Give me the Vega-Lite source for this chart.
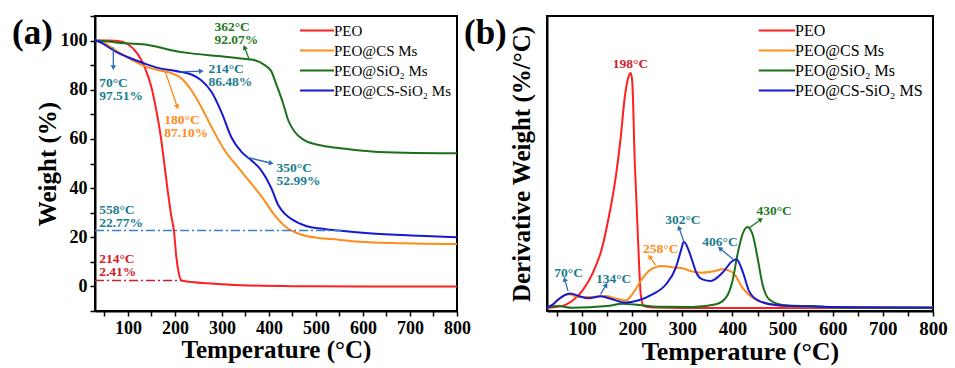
{
  "$schema": "https://vega.github.io/schema/vega-lite/v6.json",
  "background": "white",
  "padding": {"left": 10, "top": 14, "right": 5, "bottom": 2},
  "bounds": "flush",
  "spacing": 90,
  "config": {
    "view": {"stroke": "#000", "strokeWidth": 2},
    "font": "Liberation Serif",
    "axis": {"domainColor": "#000", "domainWidth": 2, "tickColor": "#000", "tickWidth": 1.5, "tickSize": 5, "labelFont": "Liberation Serif", "labelFontWeight": "bold", "labelColor": "#000", "titleFont": "Liberation Serif", "titleFontWeight": "bold", "titleColor": "#000", "grid": false, "labelPadding": 3, "labelOverlap": false, "labelFlush": false},
    "legend": {"orient": "none", "title": null, "symbolStrokeWidth": 2.2, "labelFont": "Liberation Serif", "labelColor": "#000", "padding": 0, "labelLimit": 400, "rowPadding": 2}
  },
  "datasets": {
    "tga": [
      {"s": "PEO", "T": 30, "W": 100}, {"s": "PEO", "T": 60, "W": 100}, {"s": "PEO", "T": 80, "W": 99.8}, {"s": "PEO", "T": 100, "W": 98.5}, {"s": "PEO", "T": 121, "W": 94.5}, {"s": "PEO", "T": 135, "W": 89.5}, {"s": "PEO", "T": 150, "W": 81}, {"s": "PEO", "T": 160, "W": 72}, {"s": "PEO", "T": 171, "W": 59.5}, {"s": "PEO", "T": 178, "W": 49}, {"s": "PEO", "T": 185, "W": 38.5}, {"s": "PEO", "T": 192, "W": 29}, {"s": "PEO", "T": 198, "W": 22.5}, {"s": "PEO", "T": 203, "W": 12}, {"s": "PEO", "T": 208, "W": 5.6}, {"s": "PEO", "T": 214, "W": 2.4}, {"s": "PEO", "T": 230, "W": 1.9}, {"s": "PEO", "T": 270, "W": 1.3}, {"s": "PEO", "T": 340, "W": 0.5}, {"s": "PEO", "T": 450, "W": 0.1}, {"s": "PEO", "T": 600, "W": 0}, {"s": "PEO", "T": 800, "W": 0},
      {"s": "PEO@CS Ms", "T": 30, "W": 100}, {"s": "PEO@CS Ms", "T": 45, "W": 99.5}, {"s": "PEO@CS Ms", "T": 57, "W": 98.2}, {"s": "PEO@CS Ms", "T": 79, "W": 95.4}, {"s": "PEO@CS Ms", "T": 107, "W": 92.3}, {"s": "PEO@CS Ms", "T": 135, "W": 89.6}, {"s": "PEO@CS Ms", "T": 171, "W": 87.7}, {"s": "PEO@CS Ms", "T": 192, "W": 86.8}, {"s": "PEO@CS Ms", "T": 214, "W": 84.6}, {"s": "PEO@CS Ms", "T": 235, "W": 79.8}, {"s": "PEO@CS Ms", "T": 256, "W": 73}, {"s": "PEO@CS Ms", "T": 278, "W": 64.8}, {"s": "PEO@CS Ms", "T": 306, "W": 55.3}, {"s": "PEO@CS Ms", "T": 334, "W": 48.5}, {"s": "PEO@CS Ms", "T": 363, "W": 41.7}, {"s": "PEO@CS Ms", "T": 388, "W": 35.6}, {"s": "PEO@CS Ms", "T": 410, "W": 29.5}, {"s": "PEO@CS Ms", "T": 434, "W": 24.5}, {"s": "PEO@CS Ms", "T": 470, "W": 21}, {"s": "PEO@CS Ms", "T": 505, "W": 19.7}, {"s": "PEO@CS Ms", "T": 548, "W": 19}, {"s": "PEO@CS Ms", "T": 576, "W": 18.4}, {"s": "PEO@CS Ms", "T": 683, "W": 17.6}, {"s": "PEO@CS Ms", "T": 800, "W": 17.3},
      {"s": "PEO@SiO₂ Ms", "T": 30, "W": 100}, {"s": "PEO@SiO₂ Ms", "T": 57, "W": 99.6}, {"s": "PEO@SiO₂ Ms", "T": 93, "W": 98.9}, {"s": "PEO@SiO₂ Ms", "T": 143, "W": 98.2}, {"s": "PEO@SiO₂ Ms", "T": 192, "W": 96.1}, {"s": "PEO@SiO₂ Ms", "T": 235, "W": 94.8}, {"s": "PEO@SiO₂ Ms", "T": 292, "W": 93.7}, {"s": "PEO@SiO₂ Ms", "T": 342, "W": 92.7}, {"s": "PEO@SiO₂ Ms", "T": 370, "W": 92}, {"s": "PEO@SiO₂ Ms", "T": 391, "W": 90}, {"s": "PEO@SiO₂ Ms", "T": 405, "W": 87.5}, {"s": "PEO@SiO₂ Ms", "T": 416, "W": 82}, {"s": "PEO@SiO₂ Ms", "T": 430, "W": 74.5}, {"s": "PEO@SiO₂ Ms", "T": 441, "W": 67.6}, {"s": "PEO@SiO₂ Ms", "T": 455, "W": 62.8}, {"s": "PEO@SiO₂ Ms", "T": 476, "W": 59.4}, {"s": "PEO@SiO₂ Ms", "T": 512, "W": 57.3}, {"s": "PEO@SiO₂ Ms", "T": 562, "W": 56}, {"s": "PEO@SiO₂ Ms", "T": 619, "W": 54.9}, {"s": "PEO@SiO₂ Ms", "T": 690, "W": 54.4}, {"s": "PEO@SiO₂ Ms", "T": 800, "W": 54.2},
      {"s": "PEO@CS-SiO₂ Ms", "T": 30, "W": 100}, {"s": "PEO@CS-SiO₂ Ms", "T": 45, "W": 99}, {"s": "PEO@CS-SiO₂ Ms", "T": 57, "W": 97.5}, {"s": "PEO@CS-SiO₂ Ms", "T": 79, "W": 95}, {"s": "PEO@CS-SiO₂ Ms", "T": 107, "W": 92.7}, {"s": "PEO@CS-SiO₂ Ms", "T": 135, "W": 90.7}, {"s": "PEO@CS-SiO₂ Ms", "T": 164, "W": 88.9}, {"s": "PEO@CS-SiO₂ Ms", "T": 199, "W": 87.7}, {"s": "PEO@CS-SiO₂ Ms", "T": 235, "W": 86.2}, {"s": "PEO@CS-SiO₂ Ms", "T": 256, "W": 83.9}, {"s": "PEO@CS-SiO₂ Ms", "T": 278, "W": 79.1}, {"s": "PEO@CS-SiO₂ Ms", "T": 299, "W": 70.9}, {"s": "PEO@CS-SiO₂ Ms", "T": 320, "W": 60.7}, {"s": "PEO@CS-SiO₂ Ms", "T": 342, "W": 54.6}, {"s": "PEO@CS-SiO₂ Ms", "T": 363, "W": 51.2}, {"s": "PEO@CS-SiO₂ Ms", "T": 384, "W": 47.1}, {"s": "PEO@CS-SiO₂ Ms", "T": 405, "W": 40}, {"s": "PEO@CS-SiO₂ Ms", "T": 420, "W": 33}, {"s": "PEO@CS-SiO₂ Ms", "T": 434, "W": 29.5}, {"s": "PEO@CS-SiO₂ Ms", "T": 448, "W": 27.4}, {"s": "PEO@CS-SiO₂ Ms", "T": 476, "W": 24.8}, {"s": "PEO@CS-SiO₂ Ms", "T": 520, "W": 23.3}, {"s": "PEO@CS-SiO₂ Ms", "T": 548, "W": 22.7}, {"s": "PEO@CS-SiO₂ Ms", "T": 612, "W": 21.6}, {"s": "PEO@CS-SiO₂ Ms", "T": 718, "W": 20.6}, {"s": "PEO@CS-SiO₂ Ms", "T": 800, "W": 20}
    ],
    "dtg": [
      {"s": "PEO", "T": 30, "v": 0}, {"s": "PEO", "T": 60, "v": 0.008}, {"s": "PEO", "T": 80, "v": 0.03}, {"s": "PEO", "T": 100, "v": 0.072}, {"s": "PEO", "T": 120, "v": 0.143}, {"s": "PEO", "T": 140, "v": 0.257}, {"s": "PEO", "T": 153, "v": 0.384}, {"s": "PEO", "T": 167, "v": 0.555}, {"s": "PEO", "T": 177, "v": 0.725}, {"s": "PEO", "T": 185, "v": 0.895}, {"s": "PEO", "T": 192, "v": 0.98}, {"s": "PEO", "T": 197, "v": 1.0}, {"s": "PEO", "T": 200, "v": 0.966}, {"s": "PEO", "T": 205, "v": 0.626}, {"s": "PEO", "T": 212, "v": 0.271}, {"s": "PEO", "T": 217, "v": 0.058}, {"s": "PEO", "T": 223, "v": 0.008}, {"s": "PEO", "T": 240, "v": 0.002}, {"s": "PEO", "T": 300, "v": 0}, {"s": "PEO", "T": 800, "v": 0},
      {"s": "PEO@CS Ms", "T": 30, "v": 0.003}, {"s": "PEO@CS Ms", "T": 40, "v": 0.012}, {"s": "PEO@CS Ms", "T": 53, "v": 0.037}, {"s": "PEO@CS Ms", "T": 73, "v": 0.058}, {"s": "PEO@CS Ms", "T": 93, "v": 0.047}, {"s": "PEO@CS Ms", "T": 120, "v": 0.047}, {"s": "PEO@CS Ms", "T": 147, "v": 0.051}, {"s": "PEO@CS Ms", "T": 167, "v": 0.041}, {"s": "PEO@CS Ms", "T": 187, "v": 0.033}, {"s": "PEO@CS Ms", "T": 200, "v": 0.058}, {"s": "PEO@CS Ms", "T": 217, "v": 0.115}, {"s": "PEO@CS Ms", "T": 233, "v": 0.157}, {"s": "PEO@CS Ms", "T": 247, "v": 0.174}, {"s": "PEO@CS Ms", "T": 258, "v": 0.179}, {"s": "PEO@CS Ms", "T": 287, "v": 0.172}, {"s": "PEO@CS Ms", "T": 300, "v": 0.169}, {"s": "PEO@CS Ms", "T": 320, "v": 0.155}, {"s": "PEO@CS Ms", "T": 337, "v": 0.15}, {"s": "PEO@CS Ms", "T": 360, "v": 0.155}, {"s": "PEO@CS Ms", "T": 380, "v": 0.165}, {"s": "PEO@CS Ms", "T": 395, "v": 0.158}, {"s": "PEO@CS Ms", "T": 405, "v": 0.14}, {"s": "PEO@CS Ms", "T": 420, "v": 0.086}, {"s": "PEO@CS Ms", "T": 440, "v": 0.044}, {"s": "PEO@CS Ms", "T": 473, "v": 0.016}, {"s": "PEO@CS Ms", "T": 520, "v": 0.006}, {"s": "PEO@CS Ms", "T": 600, "v": 0.003}, {"s": "PEO@CS Ms", "T": 800, "v": 0.002},
      {"s": "PEO@SiO₂ Ms", "T": 30, "v": 0.003}, {"s": "PEO@SiO₂ Ms", "T": 53, "v": 0.008}, {"s": "PEO@SiO₂ Ms", "T": 80, "v": 0.001}, {"s": "PEO@SiO₂ Ms", "T": 150, "v": 0.008}, {"s": "PEO@SiO₂ Ms", "T": 180, "v": 0.018}, {"s": "PEO@SiO₂ Ms", "T": 213, "v": 0.013}, {"s": "PEO@SiO₂ Ms", "T": 253, "v": 0.005}, {"s": "PEO@SiO₂ Ms", "T": 320, "v": 0.004}, {"s": "PEO@SiO₂ Ms", "T": 367, "v": 0.016}, {"s": "PEO@SiO₂ Ms", "T": 387, "v": 0.044}, {"s": "PEO@SiO₂ Ms", "T": 400, "v": 0.115}, {"s": "PEO@SiO₂ Ms", "T": 410, "v": 0.228}, {"s": "PEO@SiO₂ Ms", "T": 420, "v": 0.314}, {"s": "PEO@SiO₂ Ms", "T": 430, "v": 0.345}, {"s": "PEO@SiO₂ Ms", "T": 440, "v": 0.314}, {"s": "PEO@SiO₂ Ms", "T": 450, "v": 0.214}, {"s": "PEO@SiO₂ Ms", "T": 460, "v": 0.1}, {"s": "PEO@SiO₂ Ms", "T": 473, "v": 0.037}, {"s": "PEO@SiO₂ Ms", "T": 500, "v": 0.013}, {"s": "PEO@SiO₂ Ms", "T": 540, "v": 0.009}, {"s": "PEO@SiO₂ Ms", "T": 560, "v": 0.009}, {"s": "PEO@SiO₂ Ms", "T": 593, "v": 0.003}, {"s": "PEO@SiO₂ Ms", "T": 650, "v": 0.001}, {"s": "PEO@SiO₂ Ms", "T": 800, "v": 0},
      {"s": "PEO@CS-SiO₂ MS", "T": 30, "v": 0.003}, {"s": "PEO@CS-SiO₂ MS", "T": 40, "v": 0.012}, {"s": "PEO@CS-SiO₂ MS", "T": 53, "v": 0.037}, {"s": "PEO@CS-SiO₂ MS", "T": 65, "v": 0.055}, {"s": "PEO@CS-SiO₂ MS", "T": 77, "v": 0.062}, {"s": "PEO@CS-SiO₂ MS", "T": 93, "v": 0.051}, {"s": "PEO@CS-SiO₂ MS", "T": 113, "v": 0.041}, {"s": "PEO@CS-SiO₂ MS", "T": 137, "v": 0.05}, {"s": "PEO@CS-SiO₂ MS", "T": 160, "v": 0.037}, {"s": "PEO@CS-SiO₂ MS", "T": 187, "v": 0.023}, {"s": "PEO@CS-SiO₂ MS", "T": 213, "v": 0.033}, {"s": "PEO@CS-SiO₂ MS", "T": 240, "v": 0.058}, {"s": "PEO@CS-SiO₂ MS", "T": 267, "v": 0.1}, {"s": "PEO@CS-SiO₂ MS", "T": 287, "v": 0.172}, {"s": "PEO@CS-SiO₂ MS", "T": 297, "v": 0.243}, {"s": "PEO@CS-SiO₂ MS", "T": 303, "v": 0.282}, {"s": "PEO@CS-SiO₂ MS", "T": 313, "v": 0.243}, {"s": "PEO@CS-SiO₂ MS", "T": 320, "v": 0.2}, {"s": "PEO@CS-SiO₂ MS", "T": 328, "v": 0.15}, {"s": "PEO@CS-SiO₂ MS", "T": 340, "v": 0.122}, {"s": "PEO@CS-SiO₂ MS", "T": 357, "v": 0.115}, {"s": "PEO@CS-SiO₂ MS", "T": 380, "v": 0.15}, {"s": "PEO@CS-SiO₂ MS", "T": 400, "v": 0.2}, {"s": "PEO@CS-SiO₂ MS", "T": 408, "v": 0.207}, {"s": "PEO@CS-SiO₂ MS", "T": 420, "v": 0.157}, {"s": "PEO@CS-SiO₂ MS", "T": 433, "v": 0.072}, {"s": "PEO@CS-SiO₂ MS", "T": 453, "v": 0.03}, {"s": "PEO@CS-SiO₂ MS", "T": 487, "v": 0.013}, {"s": "PEO@CS-SiO₂ MS", "T": 553, "v": 0.006}, {"s": "PEO@CS-SiO₂ MS", "T": 650, "v": 0.003}, {"s": "PEO@CS-SiO₂ MS", "T": 800, "v": 0.002}
    ],
    "annA": [
      {"T": 284, "W": 104.1, "t": "362°C\n92.07%", "g": "PEO@SiO₂ Ms"},
      {"T": 38.8, "W": 81.2, "t": "70°C\n97.51%", "g": "PEO@CS-SiO₂ Ms"},
      {"T": 271.2, "W": 86.9, "t": "214°C\n86.48%", "g": "PEO@CS-SiO₂ Ms"},
      {"T": 177.4, "W": 66.1, "t": "180°C\n87.10%", "g": "PEO@CS Ms"},
      {"T": 416.2, "W": 46.5, "t": "350°C\n52.99%", "g": "PEO@CS-SiO₂ Ms"},
      {"T": 38.8, "W": 29.4, "t": "558°C\n22.77%", "g": "PEO@CS-SiO₂ Ms"},
      {"T": 38.8, "W": 9.4, "t": "214°C\n2.41%", "g": "PEO"}
    ],
    "arrA": [
      {"T": 358.7, "W": 92.0, "T2": 348, "W2": 97.3, "a": -21, "g": "PEO@SiO₂ Ms"},
      {"T": 69, "W": 97.3, "T2": 69, "W2": 89, "a": 180, "g": "PEO@CS-SiO₂ Ms"},
      {"T": 213.6, "W": 87.3, "T2": 256, "W2": 87.6, "a": 87, "g": "PEO@CS-SiO₂ Ms"},
      {"T": 179.5, "W": 87.3, "T2": 205, "W2": 73, "a": 161, "g": "PEO@CS Ms"},
      {"T": 352, "W": 52.6, "T2": 405, "W2": 50.1, "a": 104, "g": "PEO@CS-SiO₂ Ms"}
    ],
    "refA": [
      {"T": 30, "T2": 558, "W": 22.77, "g": "PEO@CS-SiO₂ Ms"},
      {"T": 30, "T2": 214, "W": 2.41, "g": "PEO"}
    ],
    "annB": [
      {"T": 196.7, "v": 1.02, "t": "198°C", "g": "PEO"},
      {"T": 483, "v": 0.397, "t": "430°C", "g": "PEO@SiO₂ Ms"},
      {"T": 301, "v": 0.358, "t": "302°C", "g": "PEO@CS-SiO₂ MS"},
      {"T": 375, "v": 0.266, "t": "406°C", "g": "PEO@CS-SiO₂ MS"},
      {"T": 257, "v": 0.233, "t": "258°C", "g": "PEO@CS Ms"},
      {"T": 73, "v": 0.131, "t": "70°C", "g": "PEO@CS-SiO₂ MS"},
      {"T": 163, "v": 0.107, "t": "134°C", "g": "PEO@CS-SiO₂ MS"}
    ],
    "arrB": [
      {"T": 432, "v": 0.339, "T2": 456.7, "v2": 0.377, "a": 54, "g": "PEO@SiO₂ Ms"},
      {"T": 303, "v": 0.282, "T2": 293.3, "v2": 0.342, "a": -20, "g": "PEO@CS-SiO₂ MS"},
      {"T": 401.3, "v": 0.207, "T2": 374.7, "v2": 0.254, "a": -51, "g": "PEO@CS-SiO₂ MS"},
      {"T": 246.7, "v": 0.183, "T2": 234.7, "v2": 0.218, "a": -36, "g": "PEO@CS Ms"},
      {"T": 72, "v": 0.072, "T2": 65.3, "v2": 0.122, "a": -16, "g": "PEO@CS-SiO₂ MS"},
      {"T": 136.7, "v": 0.058, "T2": 148, "v2": 0.098, "a": 31, "g": "PEO@CS-SiO₂ MS"}
    ]
  },
  "hconcat": [
    {
      "width": 362,
      "height": 295,
      "resolve": {"scale": {"color": "independent"}, "axis": {"x": "independent", "y": "independent"}},
      "layer": [
        {
          "data": {"name": "tga"},
          "mark": {"type": "line", "interpolate": "monotone", "strokeWidth": 2},
          "encoding": {
            "x": {"field": "T", "type": "quantitative", "scale": {"domain": [30, 800], "nice": false, "zero": false}, "axis": {"orient": "bottom", "title": "Temperature (°C)", "values": [100, 200, 300, 400, 500, 600, 700, 800], "format": "d", "labelFontSize": 18, "titleFontSize": 25, "titlePadding": 0}},
            "y": {"field": "W", "type": "quantitative", "scale": {"domain": [-10, 110], "nice": false, "zero": false}, "axis": {"orient": "left", "title": "Weight (%)", "values": [0, 20, 40, 60, 80, 100], "format": "d", "labelFontSize": 18, "titleFontSize": 25, "titlePadding": 0}},
            "color": {"field": "s", "type": "nominal", "scale": {"domain": ["PEO", "PEO@CS Ms", "PEO@SiO₂ Ms", "PEO@CS-SiO₂ Ms"], "range": ["#ff1f1f", "#ff8c1a", "#1a701a", "#1818d0"]}, "legend": {"legendX": 212.5, "legendY": 5, "symbolType": "M-2.06,0H2.06", "symbolSize": 272, "labelOffset": 7.5, "labelFontSize": 15}}
          }
        },
        {
          "data": {"name": "refA"},
          "mark": {"type": "rule", "strokeWidth": 1.6, "strokeDash": [9, 3, 2, 3]},
          "encoding": {
            "x": {"field": "T", "type": "quantitative", "axis": {"orient": "bottom", "values": [50, 150, 250, 350, 450, 550, 650, 750], "labels": false, "domain": false, "title": null}},
            "x2": {"field": "T2"},
            "y": {"field": "W", "type": "quantitative", "axis": {"orient": "left", "values": [-10, 10, 30, 50, 70, 90, 110], "labels": false, "domain": false, "title": null}},
            "color": {"field": "g", "type": "nominal", "scale": {"domain": ["PEO", "PEO@CS-SiO₂ Ms"], "range": ["#c8242c", "#3a80c8"]}, "legend": null}
          }
        },
        {
          "data": {"name": "arrA"},
          "mark": {"type": "rule", "strokeWidth": 1.3},
          "encoding": {
            "x": {"field": "T", "type": "quantitative", "axis": null},
            "x2": {"field": "T2"},
            "y": {"field": "W", "type": "quantitative", "axis": null},
            "y2": {"field": "W2"},
            "color": {"field": "g", "type": "nominal", "scale": {"domain": ["PEO", "PEO@CS Ms", "PEO@SiO₂ Ms", "PEO@CS-SiO₂ Ms"], "range": ["#c8242c", "#ff8c1a", "#237a23", "#2c6db5"]}, "legend": null}
          }
        },
        {
          "data": {"name": "arrA"},
          "mark": {"type": "point", "shape": "triangle-up", "filled": true, "size": 30, "opacity": 1},
          "encoding": {
            "x": {"field": "T2", "type": "quantitative", "axis": null},
            "y": {"field": "W2", "type": "quantitative", "axis": null},
            "angle": {"field": "a", "type": "quantitative", "scale": null},
            "color": {"field": "g", "type": "nominal", "scale": {"domain": ["PEO", "PEO@CS Ms", "PEO@SiO₂ Ms", "PEO@CS-SiO₂ Ms"], "range": ["#c8242c", "#ff8c1a", "#237a23", "#2c6db5"]}, "legend": null}
          }
        },
        {
          "data": {"name": "annA"},
          "mark": {"type": "text", "align": "left", "baseline": "alphabetic", "lineBreak": "\n", "lineHeight": 13, "font": "Liberation Serif", "fontSize": 13.5, "fontWeight": "bold"},
          "encoding": {
            "x": {"field": "T", "type": "quantitative", "axis": null},
            "y": {"field": "W", "type": "quantitative", "axis": null},
            "text": {"field": "t", "type": "nominal"},
            "color": {"field": "g", "type": "nominal", "scale": {"domain": ["PEO", "PEO@CS Ms", "PEO@SiO₂ Ms", "PEO@CS-SiO₂ Ms"], "range": ["#d0202c", "#ff8c1a", "#237a23", "#1a7d8f"]}, "legend": null}
          }
        },
        {
          "data": {"values": [{"p": "(a)"}]},
          "mark": {"type": "text", "align": "left", "baseline": "alphabetic", "font": "Liberation Serif", "fontSize": 35, "fontWeight": "bold", "color": "#000"},
          "encoding": {
            "x": {"datum": -146.6, "type": "quantitative", "axis": null},
            "y": {"datum": 98.6, "type": "quantitative", "axis": null},
            "text": {"field": "p", "type": "nominal"}
          }
        }
      ]
    },
    {
      "width": 386,
      "height": 295,
      "resolve": {"scale": {"color": "independent"}, "axis": {"x": "independent", "y": "independent"}},
      "layer": [
        {
          "data": {"name": "dtg"},
          "mark": {"type": "line", "interpolate": "monotone", "strokeWidth": 2},
          "encoding": {
            "x": {"field": "T", "type": "quantitative", "scale": {"domain": [30, 800], "nice": false, "zero": false}, "axis": {"orient": "bottom", "title": "Temperature (°C)", "values": [100, 200, 300, 400, 500, 600, 700, 800], "format": "d", "labelFontSize": 19, "titleFontSize": 26, "titlePadding": 0}},
            "y": {"field": "v", "type": "quantitative", "scale": {"domain": [-0.0128, 1.243], "nice": false, "zero": false}, "axis": {"orient": "left", "title": "Derivative Weight (%/°C)", "labels": false, "ticks": false, "titleFontSize": 25, "titlePadding": 13}},
            "color": {"field": "s", "type": "nominal", "scale": {"domain": ["PEO", "PEO@CS Ms", "PEO@SiO₂ Ms", "PEO@CS-SiO₂ MS"], "range": ["#ff1f1f", "#ff8c1a", "#1a701a", "#1818d0"]}, "legend": {"legendX": 220.4, "legendY": 5, "symbolType": "M-2.2,0H2.2", "symbolSize": 272, "labelOffset": 8.7, "labelFontSize": 16}}
          }
        },
        {
          "data": {"name": "arrB"},
          "mark": {"type": "rule", "strokeWidth": 1.3},
          "encoding": {
            "x": {"field": "T", "type": "quantitative", "axis": {"orient": "bottom", "values": [50, 150, 250, 350, 450, 550, 650, 750], "labels": false, "domain": false, "title": null}},
            "x2": {"field": "T2"},
            "y": {"field": "v", "type": "quantitative", "axis": null},
            "y2": {"field": "v2"},
            "color": {"field": "g", "type": "nominal", "scale": {"domain": ["PEO", "PEO@CS Ms", "PEO@SiO₂ Ms", "PEO@CS-SiO₂ MS"], "range": ["#c8242c", "#ff8c1a", "#237a23", "#2c6db5"]}, "legend": null}
          }
        },
        {
          "data": {"name": "arrB"},
          "mark": {"type": "point", "shape": "triangle-up", "filled": true, "size": 30, "opacity": 1},
          "encoding": {
            "x": {"field": "T2", "type": "quantitative", "axis": null},
            "y": {"field": "v2", "type": "quantitative", "axis": null},
            "angle": {"field": "a", "type": "quantitative", "scale": null},
            "color": {"field": "g", "type": "nominal", "scale": {"domain": ["PEO", "PEO@CS Ms", "PEO@SiO₂ Ms", "PEO@CS-SiO₂ MS"], "range": ["#c8242c", "#ff8c1a", "#237a23", "#2c6db5"]}, "legend": null}
          }
        },
        {
          "data": {"name": "annB"},
          "mark": {"type": "text", "align": "center", "baseline": "alphabetic", "font": "Liberation Serif", "fontSize": 13.5, "fontWeight": "bold"},
          "encoding": {
            "x": {"field": "T", "type": "quantitative", "axis": null},
            "y": {"field": "v", "type": "quantitative", "axis": null},
            "text": {"field": "t", "type": "nominal"},
            "color": {"field": "g", "type": "nominal", "scale": {"domain": ["PEO", "PEO@CS Ms", "PEO@SiO₂ Ms", "PEO@CS-SiO₂ MS"], "range": ["#d0202c", "#ff8c1a", "#237a23", "#1a7d8f"]}, "legend": null}
          }
        },
        {
          "data": {"values": [{"p": "(b)"}]},
          "mark": {"type": "text", "align": "left", "baseline": "alphabetic", "font": "Liberation Serif", "fontSize": 35, "fontWeight": "bold", "color": "#000"},
          "encoding": {
            "x": {"datum": -135.6, "type": "quantitative", "axis": null},
            "y": {"datum": 1.124, "type": "quantitative", "axis": null},
            "text": {"field": "p", "type": "nominal"}
          }
        }
      ]
    }
  ]
}
